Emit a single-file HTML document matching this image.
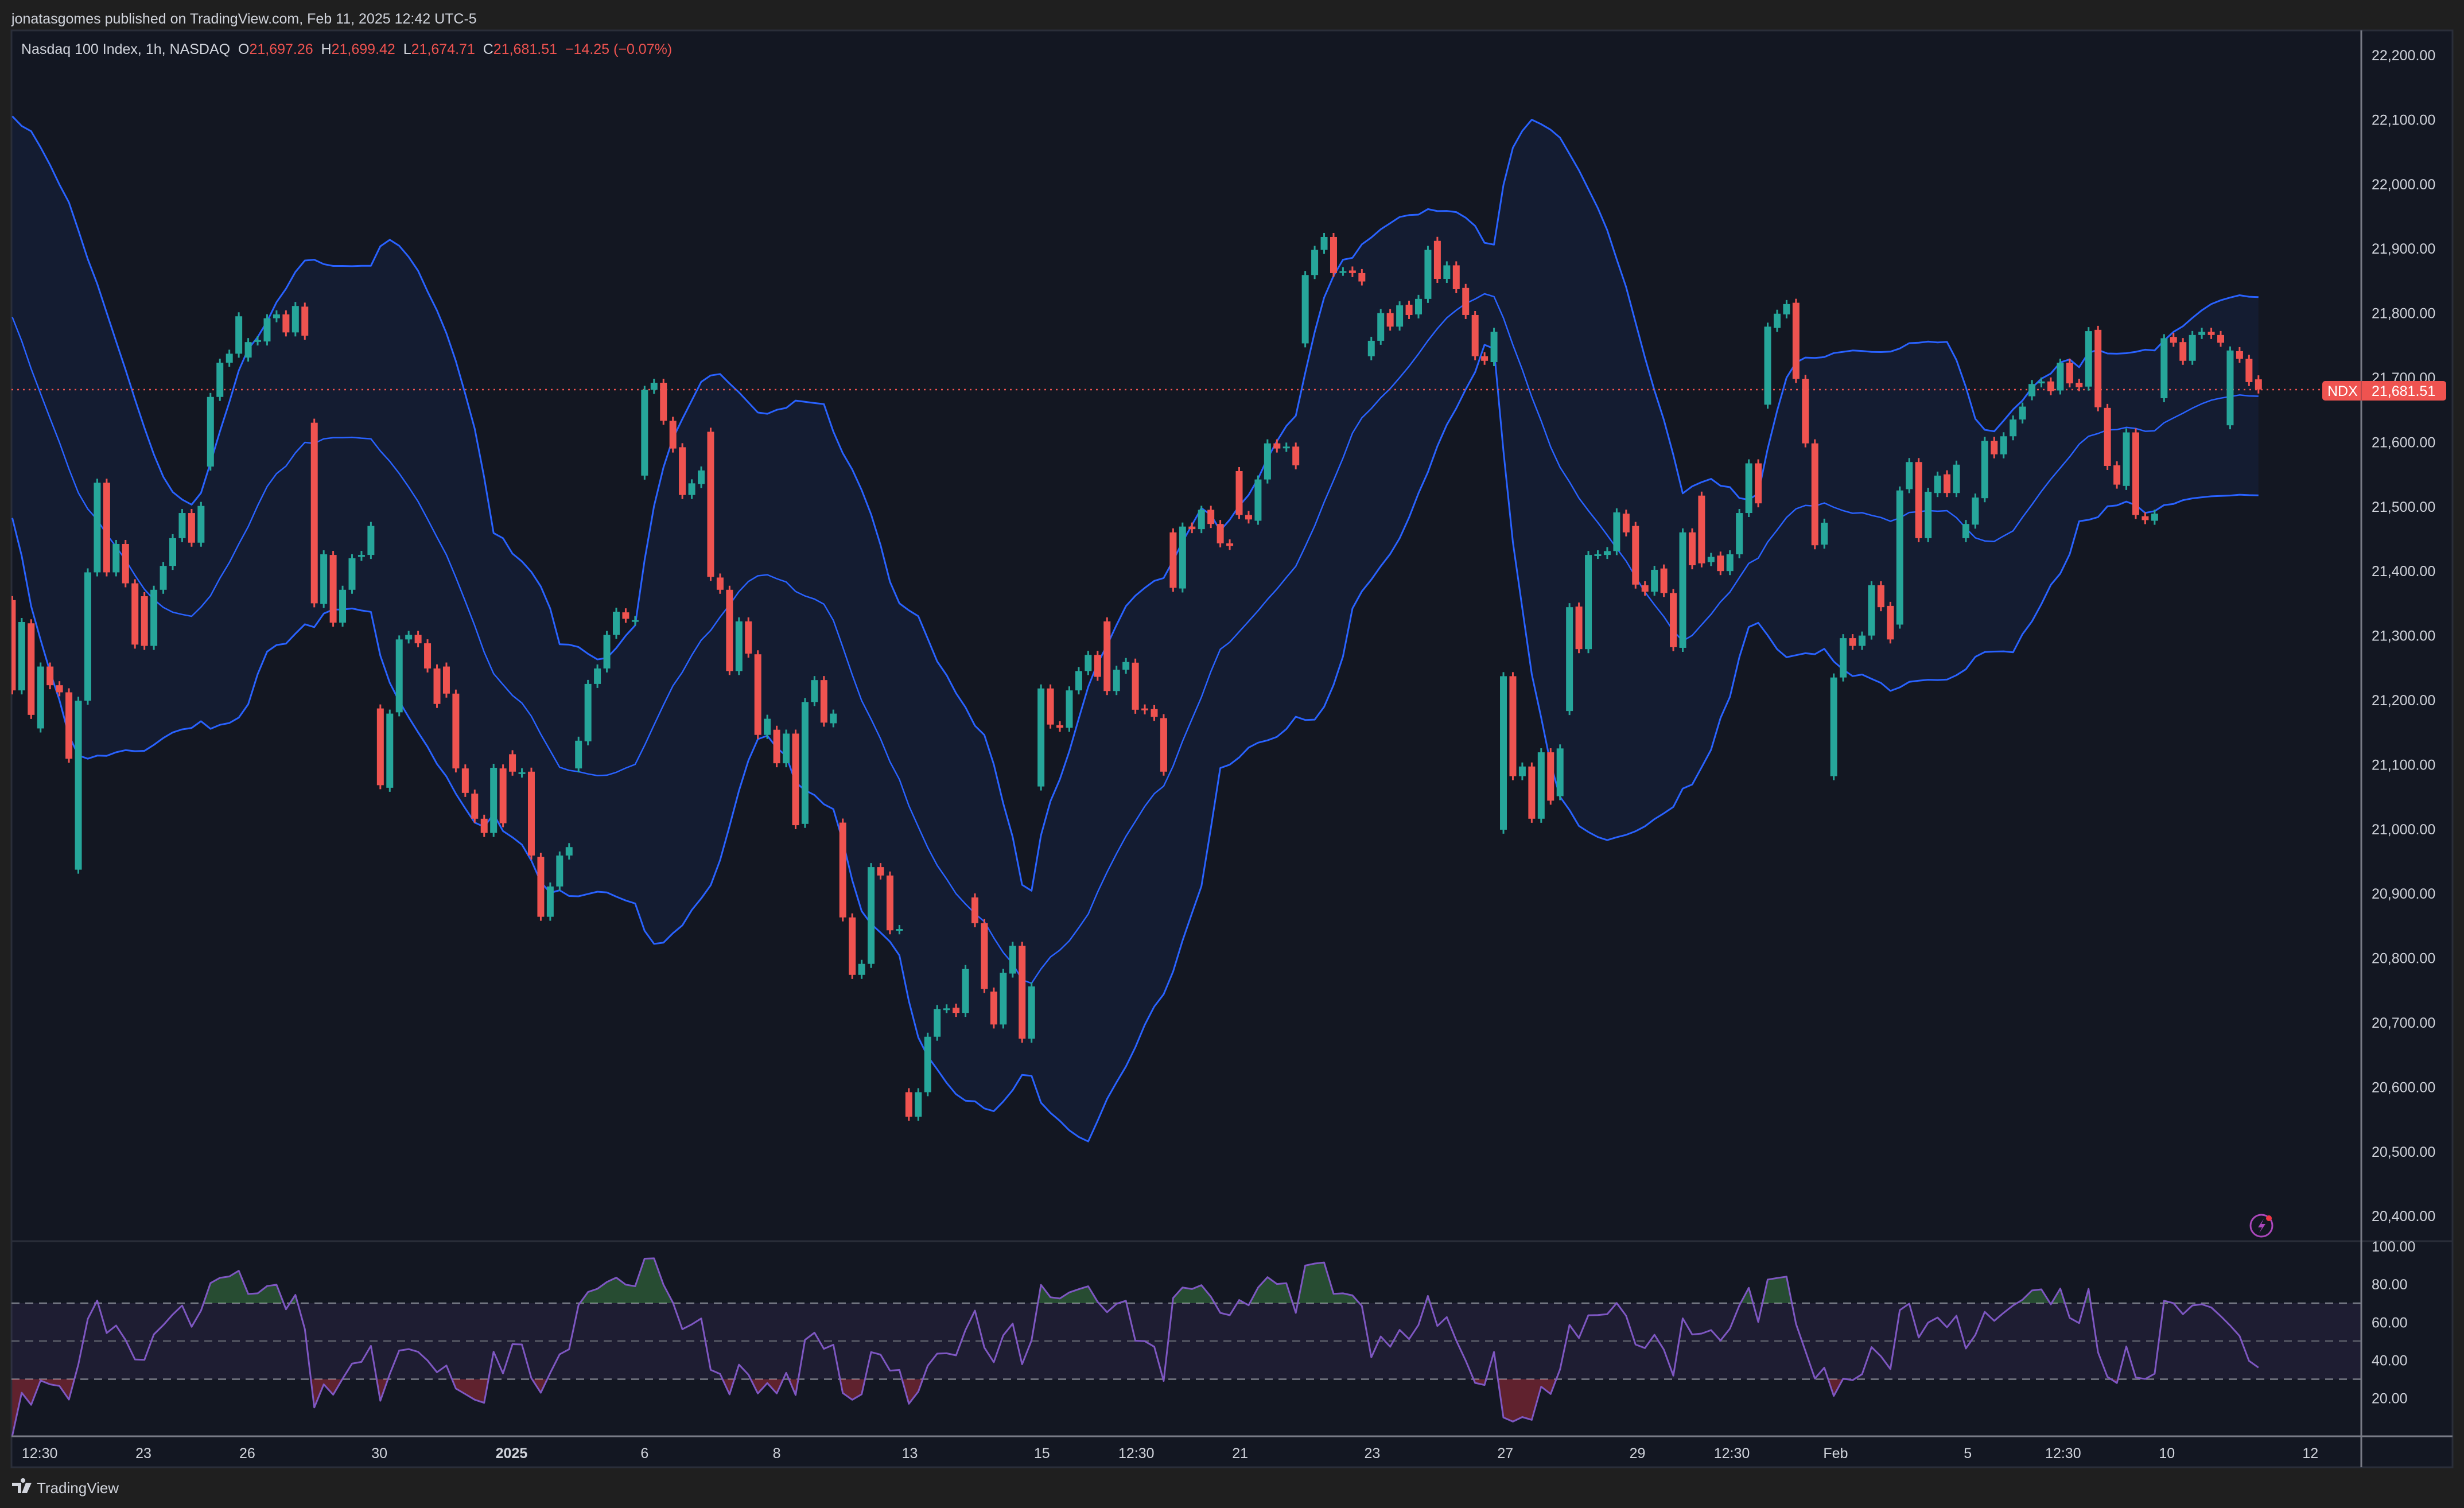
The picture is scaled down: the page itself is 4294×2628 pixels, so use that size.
<!DOCTYPE html>
<html><head><meta charset="utf-8"><style>
html,body{margin:0;padding:0;background:#1f1f1f;}
svg{display:block;}
text{font-family:"Liberation Sans",sans-serif;white-space:pre;}
</style></head><body>
<svg id="root" width="4294" height="2628" viewBox="0 0 4294 2628" xmlns="http://www.w3.org/2000/svg">
<rect x="0" y="0" width="4294" height="2628" fill="#1f1f1f"/>
<text x="20" y="41" font-size="25" fill="#d1d4dc">jonatasgomes published on TradingView.com, Feb 11, 2025 12:42 UTC-5</text>
<rect x="20" y="53" width="4254" height="2504" fill="#131722" stroke="#2a2e39" stroke-width="3"/>
<defs>
<clipPath id="pclip"><rect x="20" y="54" width="4095" height="2108"/></clipPath>
<clipPath id="rclip"><rect x="20" y="2164" width="4095" height="338"/></clipPath>
<clipPath id="obClip"><rect x="20" y="2164" width="4095" height="107"/></clipPath>
<clipPath id="osClip"><rect x="20" y="2403.5" width="4095" height="100"/></clipPath>
</defs>
<g id="bands" clip-path="url(#pclip)"></g>
<line x1="20" y1="679" x2="4115" y2="679" stroke="#ef5350" stroke-width="2.5" stroke-dasharray="3 7"/>
<g id="candles" clip-path="url(#pclip)"></g>
<text x="37" y="94" font-size="25" fill="#d1d4dc" xml:space="preserve">Nasdaq 100 Index, 1h, NASDAQ  O<tspan fill="#ef5350">21,697.26</tspan>  H<tspan fill="#ef5350">21,699.42</tspan>  L<tspan fill="#ef5350">21,674.71</tspan>  C<tspan fill="#ef5350">21,681.51  −14.25 (−0.07%)</tspan></text>
<line x1="20" y1="2163" x2="4274" y2="2163" stroke="#2a2e39" stroke-width="3"/>
<rect x="20" y="2271" width="4095" height="132.5" fill="rgba(126,87,194,0.1)"/>
<line x1="20" y1="2271" x2="4115" y2="2271" stroke="#787b86" stroke-width="2.5" stroke-dasharray="14 10"/>
<line x1="20" y1="2337" x2="4115" y2="2337" stroke="#5d606b" stroke-width="2.5" stroke-dasharray="14 10"/>
<line x1="20" y1="2403.5" x2="4115" y2="2403.5" stroke="#787b86" stroke-width="2.5" stroke-dasharray="14 10"/>
<g id="rsi" clip-path="url(#rclip)"></g>
<line x1="20" y1="2503" x2="4274" y2="2503" stroke="#787b86" stroke-width="3"/>
<line x1="4115" y1="53" x2="4115" y2="2557" stroke="#787b86" stroke-width="3"/>
<g id="paxis"></g>
<g id="raxis"></g>
<g id="taxis"></g>
<g>
<rect x="4047" y="664" width="216" height="34" rx="5" fill="#ef5350"/>
<line x1="4115" y1="664" x2="4115" y2="698" stroke="#b8474a" stroke-width="2"/>
<text x="4056" y="690" font-size="25" fill="#ffffff">NDX</text>
<text x="4133" y="690" font-size="25" fill="#ffffff">21,681.51</text>
</g>
<g>
<circle cx="3941" cy="2136" r="19" fill="#131722" stroke="#ab47bc" stroke-width="3"/>
<path d="M3945 2124 L3935 2139 L3942 2139 L3937 2149 L3948 2133 L3941 2133 Z" fill="#ab47bc"/>
<circle cx="3954" cy="2123" r="5" fill="#f23645"/>
</g>
<g>
<path d="M21 2584 h16 v18 h-6 v-12 h-10 z M40 2584 a4 4 0 1 1 0.1 0 z M45 2584 h10 l-8 18 h-9 z" fill="#d1d4dc"/>
<text x="64" y="2602" font-size="26" fill="#d1d4dc">TradingView</text>
</g>
</svg>
<script>
const priorCloses = [22060,22040,22020,21990,21960,21930,21940,21900,21870,21850,21830,21790,21760,21720,21690,21650,21600,21560,21500];
const opens = [21355,21215,21319,21156,21252,21223,21212,20937,21199,21398,21537,21398,21442,21381,21361,21284,21371,21408,21451,21490,
21444,21562,21670,21723,21737,21731,21756,21756,21792,21798,21770,21810,21630,21349,21425,21320,21371,21422,21425,21187,
21064,21181,21294,21301,21288,21249,21252,21210,21094,21055,21016,20994,21094,21116,21086,21089,20957,20864,20911,20959,
21094,21136,21225,21249,21301,21336,21322,21548,21681,21692,21633,21592,21518,21535,21616,21390,21371,21245,21322,21271,
21146,21154,21102,21148,21008,21197,21231,21164,21010,20863,20774,20791,20941,20928,20843,20592,20554,20592,20678,20721,
20723,20715,20894,20854,20748,20697,20776,20819,20675,21066,21218,21161,21157,21215,21245,21270,21322,21214,21247,21258,
21187,21186,21172,21460,21373,21469,21465,21495,21473,21443,21555,21487,21478,21542,21598,21591,21593,21753,21859,21898,
21918,21864,21866,21862,21733,21757,21800,21779,21813,21798,21822,21912,21853,21874,21839,21797,21733,21724,20999,21237,
21082,21097,21016,21119,21051,21183,21345,21279,21425,21425,21431,21489,21470,21378,21368,21404,21366,21281,21460,21517,
21414,21424,21400,21426,21490,21567,21658,21777,21798,21816,21698,21598,21441,21082,21235,21296,21284,21300,21378,21346,
21317,21527,21569,21451,21521,21550,21521,21451,21472,21513,21602,21581,21609,21635,21671,21691,21694,21680,21723,21692,
21686,21774,21653,21564,21532,21615,21485,21478,21668,21763,21755,21726,21766,21771,21766,21626,21741,21729,21697.26];
const closes = [21215,21321,21177,21252,21223,21212,21109,21199,21398,21537,21398,21442,21381,21286,21284,21371,21408,21451,21490,21444,
21501,21670,21723,21737,21795,21755,21758,21792,21798,21770,21811,21765,21350,21426,21320,21371,21420,21425,21470,21068,
21179,21294,21301,21288,21249,21194,21210,21094,21056,21016,20994,21095,21009,21089,21088,20959,20864,20911,20959,20972,
21137,21225,21249,21301,21337,21326,21324,21681,21692,21633,21590,21518,21536,21556,21391,21371,21245,21322,21272,21146,
21171,21102,21148,21006,21197,21231,21165,21179,20863,20774,20791,20941,20928,20843,20845,20554,20592,20678,20721,20722,
20715,20783,20854,20752,20697,20777,20819,20675,20756,21218,21162,21157,21215,21245,21270,21236,21214,21247,21259,21185,
21184,21174,21089,21374,21469,21465,21495,21473,21443,21439,21487,21480,21542,21598,21590,21593,21564,21859,21898,21918,
21862,21865,21862,21849,21757,21800,21779,21812,21797,21822,21898,21853,21874,21837,21797,21733,21726,21771,21237,21082,
21097,21016,21119,21044,21125,21344,21279,21425,21426,21431,21491,21460,21379,21368,21402,21366,21282,21460,21409,21412,
21422,21400,21426,21490,21567,21505,21779,21799,21814,21698,21598,21440,21475,21235,21296,21284,21300,21378,21344,21294,
21525,21569,21451,21523,21548,21521,21565,21473,21514,21602,21581,21609,21635,21655,21690,21694,21679,21723,21691,21685,
21772,21654,21563,21534,21615,21487,21479,21489,21761,21754,21726,21766,21771,21766,21754,21742,21729,21693,21681.51];
const priceTicks = [22200,22100,22000,21900,21800,21700,21600,21500,21400,21300,21200,21100,21000,20900,20800,20700,20600,20500,20400];
const rsiTicks = [100,80,60,40,20];
const timeLabels = ["12:30","23","26","30","2025","6","8","13","15","12:30","21","23","27","29","12:30","Feb","5","12:30","10","12"];
const timeIdx = [2.9,13.9,24.9,38.9,52.9,67,81,95.1,109.1,119.1,130.1,144.1,158.2,172.2,182.2,193.2,207.2,217.3,228.3,243.5];

const NS="http://www.w3.org/2000/svg";
const BB_LEN = 20, BB_MULT = 1.5, RSI_LEN = 5;
const xI = i => 21.4 + 16.447*i;
const yP = p => 96 + (22200-p)*1.124;
const yR = r => 2436.5 + (20-r)*3.306;
function mk(tag, attrs, parent){const e=document.createElementNS(NS,tag);for(const k in attrs)e.setAttribute(k,attrs[k]);parent.appendChild(e);return e;}
const fmt = v => v.toLocaleString('en-US',{minimumFractionDigits:2,maximumFractionDigits:2});

const all = priorCloses.concat(closes);
const up=[],mid=[],lo=[];
for(let i=0;i<closes.length;i++){
  const end=priorCloses.length+i; const w=all.slice(Math.max(0,end-BB_LEN+1),end+1);
  const m=w.reduce((a,b)=>a+b,0)/w.length;
  const sd=Math.sqrt(w.reduce((a,b)=>a+(b-m)*(b-m),0)/w.length);
  mid.push(m); up.push(m+BB_MULT*sd); lo.push(m-BB_MULT*sd);
}
const bands=document.getElementById('bands');
const ptsU=up.map((v,i)=>xI(i).toFixed(1)+','+yP(v).toFixed(1));
const ptsL=lo.map((v,i)=>xI(i).toFixed(1)+','+yP(v).toFixed(1));
const fill=mk('polygon',{points:ptsU.concat(ptsL.slice().reverse()).join(' '),fill:'rgba(41,98,255,0.07)'},bands);


[[up,'upper-band',3],[mid,'basis-line',2.5],[lo,'lower-band',3]].forEach(([arr,name,sw])=>{
  const pl=mk('polyline',{points:arr.map((v,i)=>xI(i).toFixed(1)+','+yP(v).toFixed(1)).join(' '),fill:'none',stroke:'#2962ff','stroke-width':sw,'stroke-linejoin':'round'},bands);
  
  
});

const cg=document.getElementById('candles');
for(let i=0;i<closes.length;i++){
  const o=opens[i],c=closes[i],up1=c>=o,col=up1?'#26a69a':'#ef5350';
  const x=xI(i),hi=Math.max(o,c),lw=Math.min(o,c);
  const g=mk('g',{},cg);
  
  
  mk('line',{x1:x,x2:x,y1:yP(hi)-7,y2:yP(lw)+7,stroke:col,'stroke-width':3},g);
  const top=yP(hi),h=Math.max(3,yP(lw)-top);
  mk('rect',{x:x-6,y:top,width:12,height:h,fill:col},g);
}

let ag=0,al=0; const rsiAll=[];
for(let k=1;k<all.length;k++){
  const d=all[k]-all[k-1],g1=Math.max(d,0),l1=Math.max(-d,0);
  if(k<=RSI_LEN){ag+=g1/RSI_LEN;al+=l1/RSI_LEN;} else {ag=(ag*(RSI_LEN-1)+g1)/RSI_LEN;al=(al*(RSI_LEN-1)+l1)/RSI_LEN;}
  rsiAll.push(al===0?100:100-100/(1+ag/al));
}
const rsiVals=rsiAll.slice(priorCloses.length-1);
const rg=document.getElementById('rsi');
const rp=rsiVals.map((v,i)=>xI(i).toFixed(1)+','+yR(v).toFixed(1));
const ob=mk('polygon',{points:[xI(0)+','+yR(70)].concat(rp,[xI(rsiVals.length-1)+','+yR(70)]).join(' '),fill:'rgba(76,175,80,0.35)','clip-path':'url(#obClip)'},rg);


const os=mk('polygon',{points:[xI(0)+','+yR(30)].concat(rp,[xI(rsiVals.length-1)+','+yR(30)]).join(' '),fill:'rgba(242,54,69,0.35)','clip-path':'url(#osClip)'},rg);


const rl=mk('polyline',{points:rp.join(' '),fill:'none',stroke:'#7e57c2','stroke-width':3,'stroke-linejoin':'round'},rg);



const pa=document.getElementById('paxis');
priceTicks.forEach(p=>{
  const t=mk('text',{x:4133,y:yP(p)+9,'font-size':25,fill:'#d1d4dc'},pa);
  t.textContent=fmt(p);
  
  
});
const ra=document.getElementById('raxis');
rsiTicks.forEach(r=>{
  const t=mk('text',{x:4133,y:yR(r)+9,'font-size':25,fill:'#d1d4dc'},ra);
  t.textContent=fmt(r);
  
  
});
const ta=document.getElementById('taxis');
timeLabels.forEach((s,k)=>{
  const t=mk('text',{x:xI(timeIdx[k]),y:2541,'font-size':25,fill:'#d1d4dc','text-anchor':'middle'},ta);
  if(s==='2025')t.setAttribute('font-weight','bold');
  t.textContent=s;
  
  
});
</script>
</body></html>
